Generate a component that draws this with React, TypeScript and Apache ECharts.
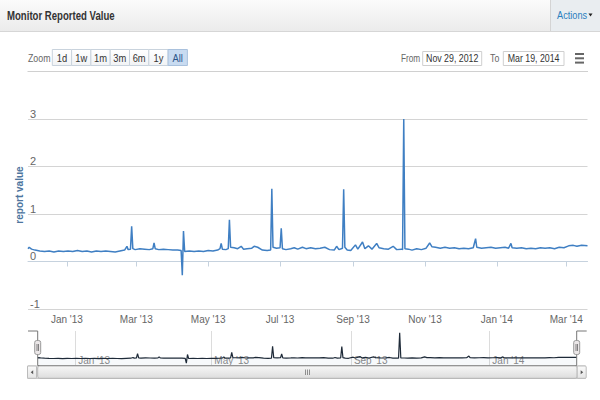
import React, { useEffect, useRef } from 'react';
import * as echarts from 'echarts';

// ---------- data ----------
const startDate = '2012-11-29';
const endDate = '2014-03-19';
const rangeFrom = 'Nov 29, 2012';
const rangeTo = 'Mar 19, 2014';

const dates = [
  '2012-11-29', '2012-11-30', '2012-12-02', '2012-12-05', '2012-12-09', '2012-12-13', '2012-12-17', '2012-12-21',
  '2012-12-25', '2012-12-29', '2013-01-02', '2013-01-06', '2013-01-10', '2013-01-14', '2013-01-18', '2013-01-22',
  '2013-01-26', '2013-01-30', '2013-02-03', '2013-02-07', '2013-02-11', '2013-02-15', '2013-02-19', '2013-02-21',
  '2013-02-22', '2013-02-24', '2013-02-25', '2013-02-26', '2013-02-28', '2013-03-04', '2013-03-08', '2013-03-12',
  '2013-03-15', '2013-03-16', '2013-03-17', '2013-03-20', '2013-03-24', '2013-03-28', '2013-04-01', '2013-04-05',
  '2013-04-08', '2013-04-09', '2013-04-10', '2013-04-11', '2013-04-15', '2013-04-19', '2013-04-23', '2013-04-27',
  '2013-05-01', '2013-05-05', '2013-05-09', '2013-05-11', '2013-05-12', '2013-05-13', '2013-05-16', '2013-05-18',
  '2013-05-19', '2013-05-20', '2013-05-23', '2013-05-26', '2013-05-29', '2013-05-31', '2013-06-03', '2013-06-07',
  '2013-06-09', '2013-06-12', '2013-06-16', '2013-06-20', '2013-06-23', '2013-06-24', '2013-06-25', '2013-06-28',
  '2013-07-01', '2013-07-02', '2013-07-03', '2013-07-06', '2013-07-10', '2013-07-13', '2013-07-16', '2013-07-20',
  '2013-07-23', '2013-07-27', '2013-07-31', '2013-08-04', '2013-08-08', '2013-08-12', '2013-08-16', '2013-08-18',
  '2013-08-20', '2013-08-23', '2013-08-24', '2013-08-25', '2013-08-27', '2013-08-30', '2013-09-03', '2013-09-05',
  '2013-09-09', '2013-09-11', '2013-09-14', '2013-09-17', '2013-09-21', '2013-09-23', '2013-09-27', '2013-10-01',
  '2013-10-05', '2013-10-08', '2013-10-12', '2013-10-13', '2013-10-14', '2013-10-15', '2013-10-18', '2013-10-21',
  '2013-10-25', '2013-10-29', '2013-11-02', '2013-11-05', '2013-11-07', '2013-11-10', '2013-11-14', '2013-11-18',
  '2013-11-22', '2013-11-26', '2013-11-30', '2013-12-04', '2013-12-08', '2013-12-12', '2013-12-14', '2013-12-15',
  '2013-12-19', '2013-12-23', '2013-12-27', '2013-12-31', '2014-01-04', '2014-01-08', '2014-01-11', '2014-01-13',
  '2014-01-14', '2014-01-18', '2014-01-22', '2014-01-26', '2014-01-30', '2014-02-03', '2014-02-07', '2014-02-11',
  '2014-02-15', '2014-02-19', '2014-02-23', '2014-02-27', '2014-03-03', '2014-03-07', '2014-03-10', '2014-03-14',
  '2014-03-19',
];

const reported = [
  0.27, 0.30, 0.26, 0.24, 0.22, 0.21, 0.22, 0.20,
  0.22, 0.21, 0.22, 0.21, 0.23, 0.21, 0.22, 0.20,
  0.22, 0.21, 0.22, 0.21, 0.20, 0.22, 0.24, 0.32,
  0.25, 0.26, 0.74, 0.27, 0.25, 0.27, 0.26, 0.25,
  0.27, 0.39, 0.27, 0.25, 0.26, 0.25, 0.24, 0.24,
  0.23, -0.29, 0.64, 0.21, 0.22, 0.21, 0.22, 0.21,
  0.23, 0.22, 0.24, 0.27, 0.38, 0.26, 0.25, 0.27,
  0.88, 0.30, 0.29, 0.27, 0.32, 0.26, 0.27, 0.28,
  0.32, 0.30, 0.24, 0.23, 0.24, 1.53, 0.30, 0.28,
  0.29, 0.70, 0.27, 0.25, 0.27, 0.29, 0.26, 0.30,
  0.27, 0.29, 0.27, 0.28, 0.30, 0.25, 0.24, 0.32,
  0.25, 0.28, 1.52, 0.30, 0.24, 0.23, 0.35, 0.26,
  0.41, 0.27, 0.33, 0.26, 0.38, 0.29, 0.27, 0.26,
  0.32, 0.25, 0.26, 0.25, 3.00, 0.27, 0.26, 0.24,
  0.27, 0.25, 0.28, 0.39, 0.31, 0.30, 0.28, 0.30,
  0.28, 0.29, 0.27, 0.28, 0.27, 0.29, 0.48, 0.30,
  0.28, 0.29, 0.30, 0.28, 0.29, 0.30, 0.28, 0.38,
  0.29, 0.28, 0.29, 0.27, 0.28, 0.27, 0.29, 0.28,
  0.29, 0.27, 0.30, 0.29, 0.33, 0.34, 0.32, 0.34,
  0.33,
];

const mainTickDates = ['2013-01-01', '2013-03-01', '2013-05-01', '2013-07-01', '2013-09-01', '2013-11-01', '2014-01-01', '2014-03-01'];
const mainTickLabels = ["Jan '13", "Mar '13", "May '13", "Jul '13", "Sep '13", "Nov '13", "Jan '14", "Mar '14"];
const navTickDates = ['2013-01-01', '2013-05-01', '2013-09-01', '2014-01-01'];
const navTickLabels = ["Jan '13", "May '13", "Sep '13", "Jan '14"];
const yMin = -1;
const yMax = 3;
const yStep = 1;
const zoomButtons = ['1d', '1w', '1m', '3m', '6m', '1y', 'All'];
const selectedZoom = 'All';

const FONT = "'Liberation Sans', Arial, sans-serif";

const ts = (d: string) => {
  const [y, m, dd] = d.split('-').map(Number);
  return Date.UTC(y, m - 1, dd);
};

export default function App() {
  const ref = useRef<HTMLDivElement>(null);

  useEffect(() => {
    document.body.style.margin = '0';
    if (!ref.current) return;
    const chart = echarts.init(ref.current, undefined, { renderer: 'svg' });

    const mainLabelMap = new Map(mainTickDates.map((d, i) => [ts(d), mainTickLabels[i]]));
    const navLabelMap = new Map(navTickDates.map((d, i) => [ts(d), navTickLabels[i]]));
    const seriesData = dates.map((d, i) => [ts(d), reported[i]]);

    // narrow text (the reference uses a condensed face)
    const txt = (text: string, x: number, y: number, opts: any = {}) => ({
      type: 'text',
      z: 20,
      x,
      y,
      scaleX: opts.scaleX ?? 0.8,
      style: {
        text,
        x: 0,
        y: 0,
        fill: opts.fill || '#666',
        fontSize: opts.fontSize || 11,
        fontWeight: opts.fontWeight || 'normal',
        fontFamily: FONT,
        align: opts.align || 'left',
        verticalAlign: 'middle',
      },
    });

    const graphics: any[] = [];
    // header
    graphics.push({
      type: 'rect',
      shape: { x: 0, y: 0, width: 600, height: 31 },
      style: {
        fill: new echarts.graphic.LinearGradient(0, 0, 0, 1, [
          { offset: 0, color: '#fbfbfb' },
          { offset: 1, color: '#ebebeb' },
        ]),
      },
    });
    graphics.push({
      type: 'rect',
      shape: { x: 551, y: 0, width: 49, height: 31 },
      style: { fill: '#e9edf0' },
    });
    graphics.push({ type: 'line', shape: { x1: 550.5, y1: 0, x2: 550.5, y2: 31 }, style: { stroke: '#d4d4d4', lineWidth: 1 } });
    graphics.push({ type: 'line', shape: { x1: 0, y1: 31.5, x2: 600, y2: 31.5 }, style: { stroke: '#d6d6d6', lineWidth: 1 } });
    graphics.push(txt('Monitor Reported Value', 7, 16, { fill: '#333', fontSize: 12, fontWeight: 'bold' }));
    graphics.push(txt('Actions', 557, 15.5, { fill: '#2a7fbf', fontSize: 11.5 }));
    graphics.push({ type: 'polygon', shape: { points: [[588.5, 13.5], [592.5, 13.5], [590.5, 16.5]] }, style: { fill: '#222' } });

    // range selector
    graphics.push(txt('Zoom', 28, 58, { fill: '#666' }));
    const bx0 = 52.3;
    const bw = 19.3;
    zoomButtons.forEach((b, i) => {
      const sel = b === selectedZoom;
      graphics.push({
        type: 'rect',
        shape: { x: bx0 + i * bw, y: 49.5, width: bw, height: 16 },
        style: {
          fill: sel
            ? '#c8dbf1'
            : new echarts.graphic.LinearGradient(0, 0, 0, 1, [
                { offset: 0, color: '#ffffff' },
                { offset: 1, color: '#f1f3f5' },
              ]),
          stroke: sel ? '#a9c1dd' : '#c9d3dd',
          lineWidth: 1,
        },
      });
      graphics.push(txt(b, bx0 + i * bw + bw / 2, 58, { fill: sel ? '#2b5589' : '#333', align: 'center', scaleX: 0.85 }));
    });
    graphics.push(txt('From', 401, 58.5, { fill: '#666', scaleX: 0.75 }));
    graphics.push({ type: 'rect', shape: { x: 422.7, y: 51.5, width: 59, height: 14 }, style: { fill: '#fff', stroke: '#cfcfcf', lineWidth: 1 } });
    graphics.push(txt(rangeFrom, 452.2, 58.5, { fill: '#333', align: 'center' }));
    graphics.push(txt('To', 490, 58.5, { fill: '#666' }));
    graphics.push({ type: 'rect', shape: { x: 503.3, y: 51.5, width: 60.7, height: 14 }, style: { fill: '#fff', stroke: '#cfcfcf', lineWidth: 1 } });
    graphics.push(txt(rangeTo, 533.6, 58.5, { fill: '#333', align: 'center' }));
    [53, 57.3, 61.6].forEach((y) => {
      graphics.push({ type: 'rect', shape: { x: 575, y, width: 9, height: 2 }, style: { fill: '#666' } });
    });
    graphics.push({ type: 'line', shape: { x1: 27.5, y1: 71.5, x2: 588, y2: 71.5 }, style: { stroke: '#d0d0d0', lineWidth: 1 } });

    // navigator outline
    graphics.push({
      type: 'polyline',
      z: 15,
      shape: { points: [[28, 331], [37.7, 331], [37.7, 365.5], [576.7, 365.5], [576.7, 331], [586.7, 331]] },
      style: { stroke: '#777', lineWidth: 1, fill: 'none' },
    });
    [34.7, 573.7].forEach((hx) => {
      graphics.push({
        type: 'rect',
        z: 16,
        shape: { x: hx, y: 340.5, width: 6, height: 14, r: 2 },
        style: { fill: '#ebe7e8', stroke: '#999', lineWidth: 1 },
      });
      graphics.push({ type: 'line', z: 17, shape: { x1: hx + 2.3, y1: 344, x2: hx + 2.3, y2: 351 }, style: { stroke: '#666', lineWidth: 0.8 } });
      graphics.push({ type: 'line', z: 17, shape: { x1: hx + 3.8, y1: 344, x2: hx + 3.8, y2: 351 }, style: { stroke: '#666', lineWidth: 0.8 } });
    });

    // scrollbar
    graphics.push({
      type: 'rect',
      z: 14,
      shape: { x: 27.5, y: 366, width: 558, height: 12.3 },
      style: { fill: '#f2f2f2', stroke: '#bbb', lineWidth: 1 },
    });
    graphics.push({
      type: 'rect',
      z: 15,
      shape: { x: 37.7, y: 366, width: 539.5, height: 12.3, r: 2 },
      style: {
        fill: new echarts.graphic.LinearGradient(0, 0, 0, 1, [
          { offset: 0, color: '#f7f7f7' },
          { offset: 1, color: '#dddddd' },
        ]),
        stroke: '#b5b5b5',
        lineWidth: 1,
      },
    });
    [27.5, 577.2].forEach((x) => {
      graphics.push({
        type: 'rect',
        z: 15,
        shape: { x, y: 366, width: 9, height: 12.3, r: 1 },
        style: {
          fill: new echarts.graphic.LinearGradient(0, 0, 0, 1, [
            { offset: 0, color: '#fafafa' },
            { offset: 1, color: '#e4e4e4' },
          ]),
          stroke: '#bbb',
          lineWidth: 1,
        },
      });
    });
    graphics.push({ type: 'polygon', z: 16, shape: { points: [[30.7, 372.2], [33.2, 370.2], [33.2, 374.2]] }, style: { fill: '#555' } });
    graphics.push({ type: 'polygon', z: 16, shape: { points: [[583.2, 372.2], [580.7, 370.2], [580.7, 374.2]] }, style: { fill: '#555' } });
    [305.5, 307.5, 309.5].forEach((x) => {
      graphics.push({ type: 'line', z: 16, shape: { x1: x, y1: 369.5, x2: x, y2: 375 }, style: { stroke: '#777', lineWidth: 0.8 } });
    });

    chart.setOption({
      animation: false,
      textStyle: { fontFamily: FONT },
      grid: [
        { left: 28, right: 12.5, top: 119, height: 190, outerBoundsMode: 'none', containLabel: false },
        { left: 37.7, right: 23.3, top: 331, height: 34, outerBoundsMode: 'none', containLabel: false },
      ],
      xAxis: [
        {
          type: 'value',
          gridIndex: 0,
          min: ts(startDate),
          max: ts(endDate),
          axisLine: { show: true, lineStyle: { color: '#c6d2de', width: 1 } },
          axisTick: { show: true, length: 5, lineStyle: { color: '#c6d2de' }, customValues: mainTickDates.map(ts) },
          axisLabel: {
            customValues: mainTickDates.map(ts),
            formatter: (v: number) => mainLabelMap.get(v) ?? '',
            color: '#666',
            fontSize: 10,
            fontFamily: FONT,
            margin: 5,
            showMinLabel: true,
            showMaxLabel: true,
          },
          splitLine: { show: false },
        },
        {
          type: 'value',
          gridIndex: 1,
          min: ts(startDate),
          max: ts(endDate),
          axisLine: { show: false },
          axisTick: { show: false, customValues: navTickDates.map(ts) },
          axisLabel: {
            customValues: navTickDates.map(ts),
            formatter: (v: number) => navLabelMap.get(v) ?? '',
            inside: true,
            align: 'left',
            verticalAlign: 'bottom',
            padding: [0, 0, 0, 3],
            margin: 0,
            color: '#8a8a8a',
            fontSize: 10,
            fontFamily: FONT,
          },
          splitLine: { show: true, lineStyle: { color: '#dcdcdc', width: 1 } },
        },
      ],
      yAxis: [
        {
          type: 'value',
          gridIndex: 0,
          min: yMin,
          max: yMax,
          interval: yStep,
          name: 'report value',
          nameLocation: 'middle',
          nameGap: 4,
          nameMoveOverlap: false,
          nameTextStyle: { color: '#4d759e', fontWeight: 'bold', fontSize: 10, fontFamily: FONT, padding: [0, 0, 0, 38] },
          axisLine: { show: false },
          axisTick: { show: false },
          axisLabel: { inside: true, align: 'left', verticalAlign: 'bottom', margin: 2, color: '#666', fontSize: 11, fontFamily: FONT },
          splitLine: { show: true, lineStyle: { color: '#d4d4d4', width: 1 } },
        },
        {
          type: 'value',
          gridIndex: 1,
          min: -0.5,
          max: 3.2,
          axisLine: { show: false },
          axisTick: { show: false },
          axisLabel: { show: false },
          splitLine: { show: false },
        },
      ],
      series: [
        {
          type: 'line',
          xAxisIndex: 0,
          yAxisIndex: 0,
          data: seriesData,
          showSymbol: false,
          symbol: 'none',
          lineStyle: { color: '#3f7fc3', width: 1.5 },
          z: 3,
        },
        {
          type: 'line',
          xAxisIndex: 1,
          yAxisIndex: 1,
          data: seriesData,
          showSymbol: false,
          symbol: 'none',
          lineStyle: { color: '#1e2a38', width: 1.2 },
          areaStyle: { color: 'rgba(69,114,167,0.06)', origin: 'start' },
          z: 3,
        },
      ],
      graphic: graphics,
    });

    return () => chart.dispose();
  }, []);

  return <div ref={ref} style={{ width: 600, height: 400 }} />;
}
